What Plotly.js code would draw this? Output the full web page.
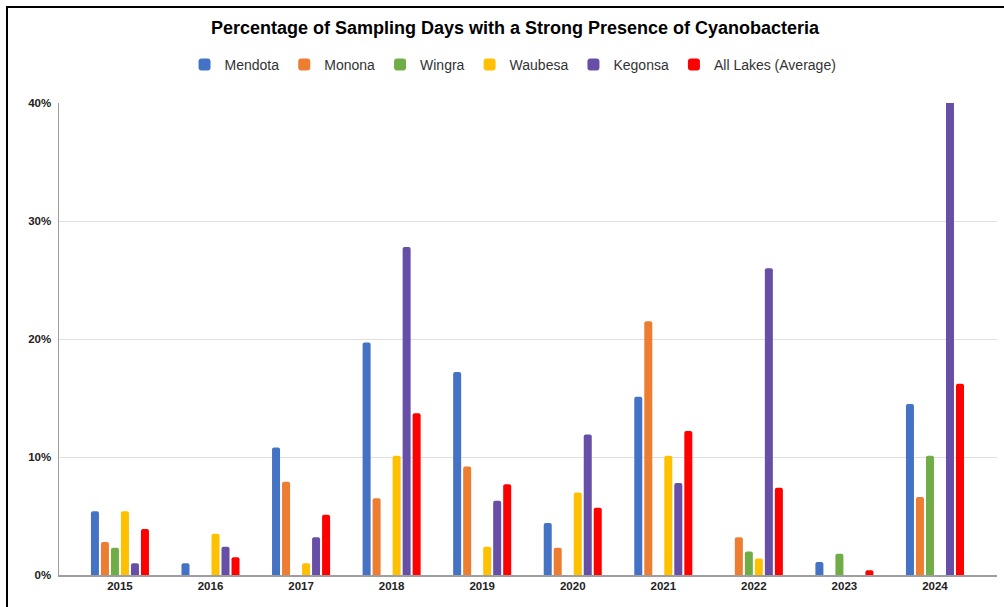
<!DOCTYPE html>
<html>
<head>
<meta charset="utf-8">
<script src="https://cdn.plot.ly/plotly-3.0.1.min.js"></script>
<style>
  html, body { margin: 0; padding: 0; background: #fff; }
  #wrap { position: relative; width: 1004px; height: 607px; overflow: hidden; }
  #chart { position: absolute; left: 0; top: 0; width: 1004px; height: 607px; }
  #frame { position: absolute; left: 6px; top: 6px; width: 1100px; height: 700px;
           border-top: 2.5px solid #000; border-left: 2.5px solid #000; pointer-events: none; }
</style>
</head>
<body>
<div id="wrap">
  <div id="chart"></div>
  <div id="frame"></div>
</div>
<script>
const years = ['2015','2016','2017','2018','2019','2020','2021','2022','2023','2024'];
const mendota = [0.054, 0.010, 0.108, 0.197, 0.172, 0.044, 0.151, 0.000, 0.011, 0.145];
const monona  = [0.028, 0.000, 0.079, 0.065, 0.092, 0.023, 0.215, 0.032, 0.000, 0.066];
const wingra  = [0.023, 0.000, 0.000, 0.000, 0.000, 0.000, 0.000, 0.020, 0.018, 0.101];
const waubesa = [0.054, 0.035, 0.010, 0.101, 0.024, 0.070, 0.101, 0.014, 0.000, 0.000];
const kegonsa = [0.010, 0.024, 0.032, 0.278, 0.063, 0.119, 0.078, 0.260, 0.000, 0.430];
const average = [0.039, 0.015, 0.051, 0.137, 0.077, 0.057, 0.122, 0.074, 0.004, 0.162];

const seriesNames = ['Mendota','Monona','Wingra','Waubesa','Kegonsa','All Lakes (Average)'];
const seriesData = [mendota, monona, wingra, waubesa, kegonsa, average];
const seriesColors = ['#4472c4','#ed7d31','#70ad47','#ffc000','#674ea7','#ff0000'];

const traces = seriesNames.map((name, i) => ({
  type: 'bar',
  name: name,
  x: years,
  y: seriesData[i],
  marker: { color: seriesColors[i], line: { width: 0 }, cornerradius: 2 },
  hoverinfo: 'x+y+name'
}));

const layout = {
  width: 1004,
  height: 607,
  paper_bgcolor: '#ffffff',
  plot_bgcolor: '#ffffff',
  margin: { l: 59, r: 7, t: 103, b: 32 },
  font: { family: '"Liberation Sans", Arial, sans-serif', color: '#222' },
  title: {
    text: '<b>Percentage of Sampling Days with a Strong Presence of Cyanobacteria</b>',
    font: { family: '"Liberation Sans", Arial, sans-serif', size: 18, color: '#000' },
    x: 0.513, xref: 'container', xanchor: 'center',
    y: 0.955, yref: 'container', yanchor: 'middle'
  },
  showlegend: true,
  legend: {
    orientation: 'h',
    x: 0.511, xref: 'container', xanchor: 'center',
    y: 0.893, yref: 'container', yanchor: 'middle',
    font: { family: '"Liberation Sans", Arial, sans-serif', size: 14, color: '#333' },
    itemsizing: 'constant',
    traceorder: 'normal'
  },
  barmode: 'group',
  bargap: 0.337,
  bargroupgap: 0.2,
  xaxis: {
    type: 'category',
    range: [-0.673, 9.685],
    showgrid: false,
    showline: true,
    linecolor: '#9e9e9e',
    linewidth: 1.5,
    ticks: '',
    tickfont: { family: '"Liberation Sans", Arial, sans-serif', size: 11.5, color: '#222', weight: 'bold' },
    fixedrange: true
  },
  yaxis: {
    range: [0, 0.4],
    dtick: 0.1,
    tickformat: '.0%',
    showgrid: true,
    gridcolor: '#e0e0e0',
    gridwidth: 1,
    showline: true,
    linecolor: '#9e9e9e',
    linewidth: 1.5,
    zeroline: false,
    ticks: '',
    ticklabelstandoff: 4,
    tickfont: { family: '"Liberation Sans", Arial, sans-serif', size: 11.5, color: '#222', weight: 'bold' },
    fixedrange: true
  }
};

Plotly.newPlot('chart', traces, layout, { displayModeBar: false, staticPlot: true });
</script>
</body>
</html>
